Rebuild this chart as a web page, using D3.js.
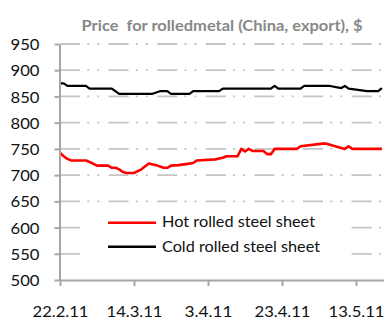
<!DOCTYPE html>
<html>
<head>
<meta charset="utf-8">
<script src="https://cdn.jsdelivr.net/npm/d3@7"></script>
<style>
  html, body { margin: 0; padding: 0; background: #fff; }
  svg { display: block; }
  text { font-family: Lato, "Open Sans", sans-serif; }
</style>
</head>
<body>
<div id="chart"></div>
<script>
// ---- data ----
const title = "Price  for rolledmetal (China, export), $";
const seriesNames = ["Hot rolled steel sheet", "Cold rolled steel sheet"];
const seriesColors = ["#ff0000", "#000000"];

const hotDates = ["2011-02-22","2011-02-23","2011-02-24","2011-02-25","2011-03-01","2011-03-02","2011-03-04","2011-03-07","2011-03-08","2011-03-09","2011-03-10","2011-03-11","2011-03-12","2011-03-14","2011-03-16","2011-03-18","2011-03-20","2011-03-22","2011-03-23","2011-03-24","2011-03-26","2011-03-28","2011-03-30","2011-03-31","2011-04-05","2011-04-07","2011-04-08","2011-04-11","2011-04-12","2011-04-13","2011-04-14","2011-04-15","2011-04-18","2011-04-19","2011-04-20","2011-04-21","2011-04-27","2011-04-28","2011-05-04","2011-05-05","2011-05-10","2011-05-11","2011-05-12","2011-05-20"];
const hotValues = [743,736,731,728,728,725,718,718,714,714,711,706,704,704,711,722,719,714,714,718,719,721,723,728,730,733,736,736,750,745,750,746,746,740,740,750,750,755,760,760,750,755,750,750];

const coldDates = ["2011-02-22","2011-02-23","2011-02-24","2011-03-01","2011-03-02","2011-03-08","2011-03-10","2011-03-19","2011-03-21","2011-03-23","2011-03-24","2011-03-29","2011-03-30","2011-04-06","2011-04-07","2011-04-20","2011-04-21","2011-04-22","2011-04-28","2011-04-29","2011-05-06","2011-05-09","2011-05-10","2011-05-11","2011-05-16","2011-05-19","2011-05-20"];
const coldValues = [875,875,870,870,865,865,855,855,860,860,855,855,860,860,865,865,870,865,865,870,870,866,870,865,860,860,866];

const xTickDates = ["2011-02-22","2011-03-14","2011-04-03","2011-04-23","2011-05-13"];
const xTickLabels = ["22.2.11","14.3.11","3.4.11","23.4.11","13.5.11"];
const yTicks = [500,550,600,650,700,750,800,850,900,950];
const xDomain = ["2011-02-22","2011-05-21"];
const yDomain = [500, 950];

// ---- drawing ----
const W = 384, H = 322;
const parse = d3.utcParse("%Y-%m-%d");
const svg = d3.select("#chart").append("svg").attr("width", W).attr("height", H);
svg.append("rect").attr("width", W).attr("height", H).attr("fill", "#fff");

const x = d3.scaleUtc().domain(xDomain.map(parse)).range([60, 385.6]);
const y = d3.scaleLinear().domain(yDomain).range([280, 44]);

// gridlines
svg.append("g").selectAll("line").data(yTicks.filter(v => v > yDomain[0])).join("line")
  .attr("x1", 60).attr("x2", W)
  .attr("y1", d => y(d)).attr("y2", d => y(d))
  .attr("stroke", "#c4c4c4").attr("stroke-width", 1.8)
  .attr("stroke-dasharray", "20,7.3,2,8,2,9.3");

// title
svg.append("text").attr("x", 222).attr("y", 31).attr("text-anchor", "middle")
  .attr("fill", "#888888").attr("font-weight", "bold").attr("font-size", 15)
  .style("white-space", "pre")
  .attr("textLength", 281).attr("lengthAdjust", "spacingAndGlyphs")
  .text(title);

// series
const line = d3.line().x(d => x(d[0])).y(d => y(d[1]));
const series = [
  {dates: hotDates, values: hotValues},
  {dates: coldDates, values: coldValues}
];
series.forEach((s, i) => {
  const pts = s.dates.map((d, j) => [parse(d), s.values[j]]);
  svg.append("path").datum(pts).attr("d", line)
    .attr("fill", "none").attr("stroke", seriesColors[i])
    .attr("stroke-width", i === 0 ? 2.6 : 2.2)
    .attr("stroke-linejoin", "round");
});

// y axis
const yAxis = svg.append("g").attr("transform", "translate(59.5,0)")
  .call(d3.axisLeft(y).tickValues(yTicks).tickSize(5).tickSizeOuter(0).tickFormat(d3.format("d")));
yAxis.select(".domain").attr("stroke", "#a6a6a6").attr("stroke-width", 2);
yAxis.selectAll(".tick line").attr("stroke", "#a6a6a6").attr("stroke-width", 2);
yAxis.selectAll(".tick text").attr("x", -20).attr("dy", "0.36em")
  .attr("font-size", 15.5).attr("fill", "#111")
  .attr("font-family", "Lato, 'Open Sans', sans-serif")
  .attr("textLength", 29).attr("lengthAdjust", "spacingAndGlyphs");

// x axis
const xAxis = svg.append("g").attr("transform", "translate(0,280)")
  .call(d3.axisBottom(x).tickValues(xTickDates.map(parse)).tickSize(6).tickSizeOuter(0)
    .tickFormat((d, i) => xTickLabels[i]));
xAxis.select(".domain").attr("stroke", "#a6a6a6").attr("stroke-width", 2);
xAxis.selectAll(".tick line").attr("stroke", "#a6a6a6").attr("stroke-width", 2);
xAxis.selectAll(".tick text").attr("y", 37).attr("dy", 0)
  .attr("font-size", 16).attr("fill", "#111")
  .attr("font-family", "Lato, 'Open Sans', sans-serif")
  .attr("textLength", (d, i) => xTickLabels[i].length === 6 ? 48 : 56)
  .attr("lengthAdjust", "spacingAndGlyphs");

// legend
const lg = svg.append("g");
lg.append("rect").attr("x", 83).attr("y", 206).attr("width", 260).attr("height", 58).attr("fill", "#fff");
const legendTextLen = [153, 158];
seriesNames.forEach((n, i) => {
  const ly = 222.7 + i * 24;
  lg.append("line").attr("x1", 108).attr("x2", 156).attr("y1", ly).attr("y2", ly)
    .attr("stroke", seriesColors[i]).attr("stroke-width", i === 0 ? 2.6 : 2.4);
  lg.append("text").attr("x", 162).attr("y", 227 + i * 25)
    .attr("font-size", 16).attr("fill", "#111")
    .attr("textLength", legendTextLen[i]).attr("lengthAdjust", "spacingAndGlyphs")
    .text(n);
});
</script>
</body>
</html>
